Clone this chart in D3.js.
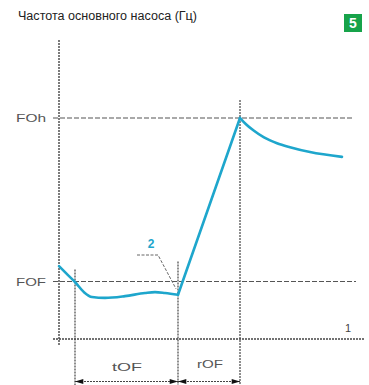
<!DOCTYPE html>
<html>
<head>
<meta charset="utf-8">
<script src="https://cdn.jsdelivr.net/npm/d3@7"></script>
<style>
  html, body { margin: 0; padding: 0; background: #fff; }
  svg { display: block; }
  .lbl { font-family: "Liberation Sans", Arial, sans-serif; }
</style>
</head>
<body>
<svg id="chart" width="369" height="385"></svg>
<script>
// Pump frequency response: time in arbitrary units, frequency in relative units
const levelNames = ["FOh", "FOF"];
const levelValues = [50, 13];           // FOh (high), FOF (low threshold)
const markTimes = [16, 119, 181];       // start of tOF, end of tOF / start of rOF, end of rOF
const intervalNames = ["tOF", "rOF"];

// Curve phases
const dipTimes   = [0, 7, 16, 25, 33, 46, 66, 86, 96, 106, 119];
const dipValues  = [16.5, 14.9, 12.9, 10.6, 9.5, 9.3, 9.7, 10.4, 10.6, 10.4, 10.0];
const riseTimes  = [119, 181];
const riseValues = [10.0, 50];
const decayTimes  = [181, 187, 195, 205, 218, 231, 251, 283];
const decayValues = [50, 48.6, 47.1, 45.6, 44.3, 43.4, 42.3, 41.2];

const svg = d3.select("#chart");
const x = d3.scaleLinear().domain([0, 300]).range([59, 359]);
const y = d3.scaleLinear().domain([0, 50]).range([339, 118]);

const axisColor = "#444";
const gridColor = "#555";
const curveColor = "#1ea6cc";

// Condensed label helper
function label(txt, px, py, size, width, color, anchor) {
  return svg.append("text").attr("class", "lbl")
    .attr("x", px).attr("y", py).attr("font-size", size).attr("fill", color)
    .attr("text-anchor", anchor || "start")
    .attr("textLength", width).attr("lengthAdjust", "spacingAndGlyphs")
    .text(txt);
}

// Title
label("Частота основного насоса (Гц)", 18, 20, 12.5, 179, "#222");

// Badge
svg.append("rect").attr("x", 344).attr("y", 14).attr("width", 18).attr("height", 18).attr("fill", "#17a34a");
svg.append("text").attr("x", 353).attr("y", 28)
  .attr("text-anchor", "middle").attr("font-family", "Liberation Sans, Arial, sans-serif")
  .attr("font-weight", "bold").attr("font-size", 14).attr("fill", "#fff").text("5");

// Axes
svg.append("line").attr("x1", x(0)).attr("x2", x(0)).attr("y1", 40).attr("y2", 345)
  .attr("stroke", axisColor).attr("stroke-width", 1.4).attr("stroke-dasharray", "2,1");
svg.append("line").attr("x1", 53).attr("x2", 365).attr("y1", y(0)).attr("y2", y(0))
  .attr("stroke", axisColor).attr("stroke-width", 1.4).attr("stroke-dasharray", "2,1");

// Level reference lines
levelValues.forEach((v, i) => {
  svg.append("line").attr("x1", 53).attr("x2", i === 0 ? 352 : 356)
    .attr("y1", y(v)).attr("y2", y(v))
    .attr("stroke", gridColor).attr("stroke-width", 1.1).attr("stroke-dasharray", "5,2");
  label(levelNames[i], 16, y(v) + 4, 11, 30, "#555");
});

// Vertical time markers
const markTops = [y(levelValues[1]) - 12, y(levelValues[1]) - 20, y(levelValues[0]) - 18];
markTimes.forEach((t, i) => {
  svg.append("line").attr("x1", x(t)).attr("x2", x(t))
    .attr("y1", markTops[i]).attr("y2", 385)
    .attr("stroke", axisColor).attr("stroke-width", 1.2).attr("stroke-dasharray", "2,1");
});

// Interval dimension arrows
const arrowY = 381.5;
const defs = svg.append("defs");
defs.append("marker").attr("id", "ah").attr("viewBox", "0 0 10 6")
  .attr("refX", 10).attr("refY", 3).attr("markerWidth", 10).attr("markerHeight", 5)
  .attr("markerUnits", "userSpaceOnUse").attr("orient", "auto-start-reverse")
  .append("path").attr("d", "M0,0 L10,3 L0,6 Z").attr("fill", "#111");
for (let i = 0; i < 2; i++) {
  const x0 = x(markTimes[i]), x1 = x(markTimes[i + 1]);
  svg.append("line").attr("x1", x0).attr("x2", x1).attr("y1", arrowY).attr("y2", arrowY)
    .attr("stroke", axisColor).attr("stroke-width", 1.2).attr("stroke-dasharray", "2,1")
    .attr("marker-start", "url(#ah)").attr("marker-end", "url(#ah)");
}
label(intervalNames[0], 112, 371, 11, 30, "#555");
label(intervalNames[1], 197, 368, 11, 26, "#555");

// Time axis label
svg.append("text").attr("class", "lbl").attr("x", 348).attr("y", 332)
  .attr("text-anchor", "middle").attr("font-size", 11).attr("fill", "#444").text("1");

// Frequency curve
const smooth = d3.line().x(d => x(d[0])).y(d => y(d[1])).curve(d3.curveMonotoneX);
const straight = d3.line().x(d => x(d[0])).y(d => y(d[1]));
const phases = [
  [d3.zip(dipTimes, dipValues), smooth],
  [d3.zip(riseTimes, riseValues), straight],
  [d3.zip(decayTimes, decayValues), smooth]
];
phases.forEach(([pts, gen]) => {
  svg.append("path").attr("d", gen(pts)).attr("fill", "none")
    .attr("stroke", curveColor).attr("stroke-width", 2.6)
    .attr("stroke-linejoin", "round").attr("stroke-linecap", "round");
});

// Callout "2" at the minimum point
const minX = x(dipTimes[dipTimes.length - 1]), minY = y(dipValues[dipValues.length - 1]);
svg.append("path")
  .attr("d", `M137,255 L158,255 L${minX - 2},${minY - 6}`)
  .attr("fill", "none").attr("stroke", "#666").attr("stroke-width", 1).attr("stroke-dasharray", "3,1.5");
svg.append("text").attr("x", 151).attr("y", 248)
  .attr("text-anchor", "middle").attr("font-family", "Liberation Sans, Arial, sans-serif")
  .attr("font-weight", "bold").attr("font-size", 12).attr("fill", curveColor).text("2");
</script>
</body>
</html>
